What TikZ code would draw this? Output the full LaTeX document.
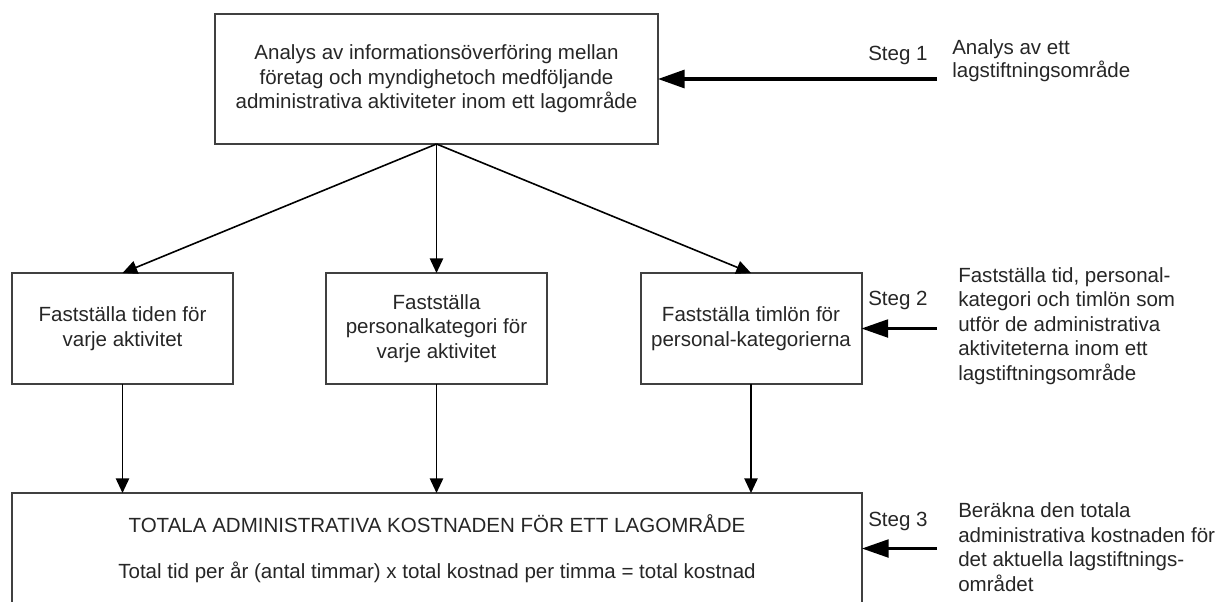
\documentclass[tikz,border=0pt]{standalone}
\usepackage{fontspec}
\setmainfont{Liberation Sans}
\usetikzlibrary{arrows.meta}
\begin{document}
\begin{tikzpicture}[x=0.75pt,y=0.75pt,yscale=-1,xscale=1,
        font=\fontsize{15.4}{18.4}\selectfont,
        box/.style={draw=black!75,line width=1.5pt,inner sep=0pt,outer sep=0pt,align=center,text=black!85},
        flow/.style={draw=black,line width=1.2pt,-{Triangle[length=11pt,width=10pt]}},
        steg/.style={draw=black,line width=2.4pt,-{Triangle[length=20pt,width=13.5pt]}},
        note/.style={align=left,anchor=west,inner sep=0pt,text=black!85}]
        \useasboundingbox (0,0) rectangle (1229,601);
        \clip (0,0) rectangle (1229,601);

        %Shape: Rectangle [id:top]
        \node[box,minimum width=332.25pt,minimum height=97.5pt] (top) at (436.5,79) {Analys av informationsöverföring mellan\\företag och myndighetoch medföljande\\administrativa aktiviteter inom ett lagområde};
        %Shape: Rectangle [id:tid]
        \node[box,minimum width=165.75pt,minimum height=83.25pt] (tid) at (122.5,328.5) {Fastställa tiden för\\varje aktivitet};
        %Shape: Rectangle [id:kat]
        \node[box,minimum width=165.75pt,minimum height=83.25pt] (kat) at (436.5,328.5) {Fastställa\\personalkategori för\\varje aktivitet};
        %Shape: Rectangle [id:lon]
        \node[box,minimum width=165.75pt,minimum height=83.25pt] (lon) at (751,328.5) {Fastställa timlön för\\personal-kategorierna};
        %Shape: Rectangle [id:total]
        \node[box,minimum width=637.5pt,minimum height=83.25pt] (total) at (437,548.5) {TOTALA ADMINISTRATIVA KOSTNADEN FÖR ETT LAGOMRÅDE\\[16pt]Total tid per år (antal timmar) x total kostnad per timma = total kostnad};

        %Straight Lines [id:flow]
        \draw[flow] (top.south) -- (tid.north);
        \draw[flow] (top.south) -- (kat.north);
        \draw[flow] (top.south) -- (lon.north);
        \draw[flow] (tid.south) -- (tid.south |- total.north);
        \draw[flow] (kat.south) -- (kat.south |- total.north);
        \draw[flow] (lon.south) -- (lon.south |- total.north);

        %Text: steps
        \node[note] (steg1) at (868,55) {Steg 1};
        \node[note] (steg2) at (868,300) {Steg 2};
        \node[note] (steg3) at (868,521) {Steg 3};
        \node[note,font=\fontsize{15.4}{17}\selectfont] (txt1) at (952,61) {Analys av ett\\lagstiftningsområde};
        \node[note] (txt2) at (958,326) {Fastställa tid, personal-\\kategori och timlön som\\utför de administrativa\\aktiviteterna inom ett\\lagstiftningsområde};
        \node[note] (txt3) at (958,547) {Beräkna den totala\\administrativa kostnaden för\\det aktuella lagstiftnings-\\området};

        %Straight Lines [id:steg]
        \coordinate (s1) at (937,79);
        \coordinate (s2) at (937,328.5);
        \coordinate (s3) at (937,548.5);
        \draw[steg] (s1) -- (top.east);
        \draw[steg,line width=1.7pt] (s2) -- (lon.east);
        \draw[steg,line width=1.7pt] (s3) -- (total.east);
\end{tikzpicture}
\end{document}
